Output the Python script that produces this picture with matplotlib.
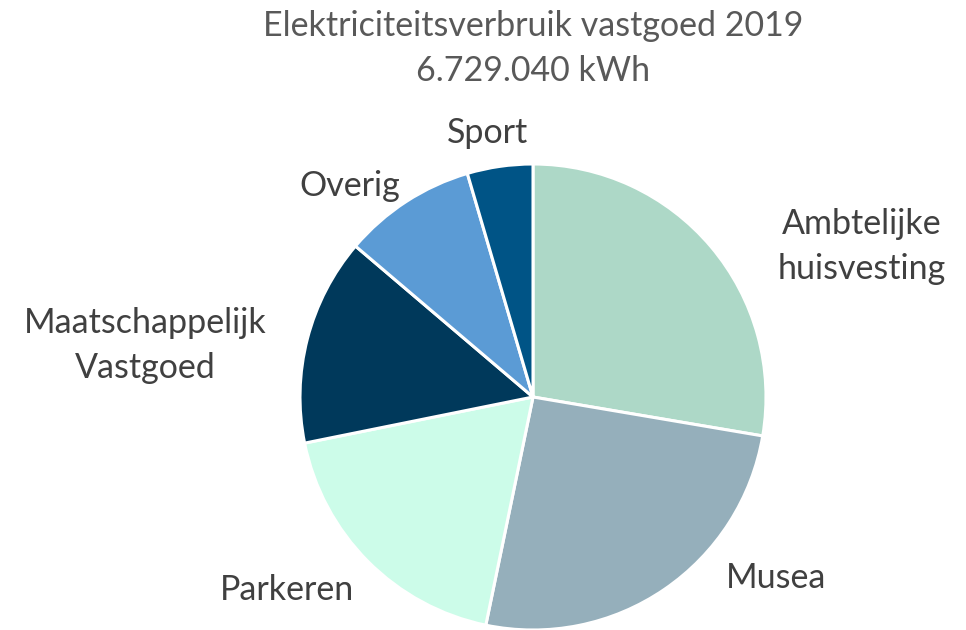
import matplotlib
matplotlib.use('Agg')
import matplotlib.pyplot as plt

# aandeel per categorie (procent)
categories = ['Ambtelijke\nhuisvesting', 'Musea', 'Parkeren',
              'Maatschappelijk\nVastgoed', 'Overig', 'Sport']
shares = [27.7, 25.6, 18.6, 14.4, 9.25, 4.55]
colors = ['#ADD8C7', '#95AFBB', '#CCFCE9', '#00395B', '#5B9BD5', '#005486']
title = 'Elektriciteitsverbruik vastgoed 2019\n6.729.040 kWh'

plt.rcParams['font.family'] = ['Lato', 'DejaVu Sans']

fig = plt.figure(figsize=(9.66, 6.3), dpi=100)
ax = fig.add_axes([0, 0, 1, 1])

wedges, _ = ax.pie(shares, colors=colors, startangle=90, counterclock=False,
                   wedgeprops=dict(edgecolor='white', linewidth=2.2))

# schaal: 233 px per eenheid, middelpunt op (533, 397)
ax.set_aspect('auto')
ax.set_xlim(-533 / 233, (966 - 533) / 233)
ax.set_ylim(-(630 - 397) / 233, 397 / 233)
ax.axis('off')

# labelposities (zoals Excel best fit)
label_pos = [(1.412, 0.644), (1.043, -0.777), (-1.056, -0.828),
             (-1.665, 0.219), (-0.785, 0.906), (-0.197, 1.133)]
for lab, (x, y) in zip(categories, label_pos):
    ax.text(x, y, lab, ha='center', va='center', fontsize=24.5,
            color='#404040', linespacing=1.5)

fig.text(0.552, 0.923, title, ha='center', va='center', fontsize=24.5,
         color='#595959', linespacing=1.5)

fig.savefig('out.png', dpi=100)
